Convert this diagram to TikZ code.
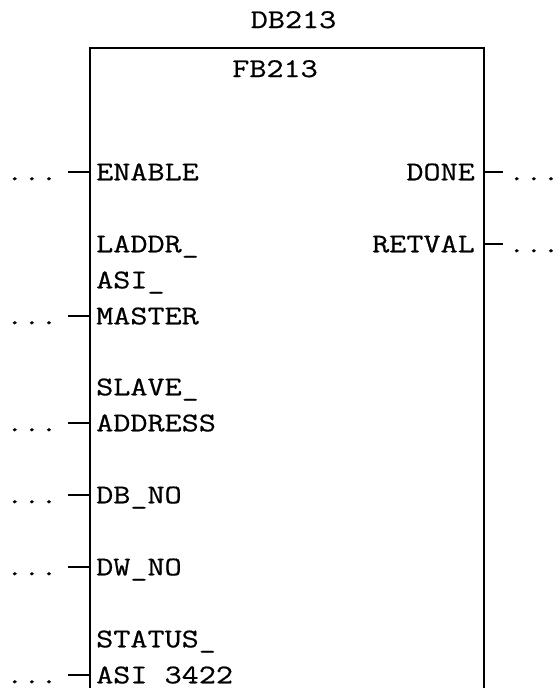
\documentclass[tikz,border=0pt]{standalone}
\usepackage{fontspec}
\newfontfamily\plcfont[FakeStretch=1.23,FakeBold=0.6]{Latin Modern Mono}
\begin{document}
\begin{tikzpicture}[x=1pt,y=-1pt,
  txt/.style={font=\plcfont\fontsize{27}{32}\selectfont, inner sep=0pt},
  pinline/.style={line width=1.8pt},
  blockbox/.style={draw, line width=1.8pt, inner sep=0pt, anchor=north west}]
\useasboundingbox (0,0) rectangle (553,688);
\node[blockbox, minimum width=394pt, minimum height=680pt] (fb) at (89,47) {};
\node[txt, anchor=base] (db) at (293.5,28) {DB213};
\node[txt, anchor=base] (fbname) at (275,77) {FB213};
% inputs
\foreach \name/\y/\lbl in {i1/172/ENABLE, i2/316/MASTER, i3/423/ADDRESS, i4/495/DB\_NO, i5/567/DW\_NO, i6/675/ASI 3422}{
  \node[txt, anchor=base west] (\name) at (96,\y+8.3) {\lbl};
  \node[txt, anchor=base west] (\name d) at (6,\y+8.3) {...};
  \coordinate (\name p) at (68,\y);
  \draw[pinline] (\name p) -- (fb.west |- \name p);
}
\node[txt, anchor=base west] (l1) at (96,244+8.3) {LADDR\_};
\node[txt, anchor=base west] (l2) at (96,280+8.3) {ASI\_};
\node[txt, anchor=base west] (l3) at (96,387+8.3) {SLAVE\_};
\node[txt, anchor=base west] (l4) at (96,639+8.3) {STATUS\_};
% outputs
\foreach \name/\y/\lbl in {o1/172/DONE, o2/244/RETVAL}{
  \node[txt, anchor=base east] (\name) at (475,\y+8.3) {\lbl};
  \node[txt, anchor=base west] (\name d) at (508,\y+8.3) {...};
  \coordinate (\name p) at (503,\y);
  \draw[pinline] (fb.east |- \name p) -- (\name p);
}
\end{tikzpicture}
\end{document}
